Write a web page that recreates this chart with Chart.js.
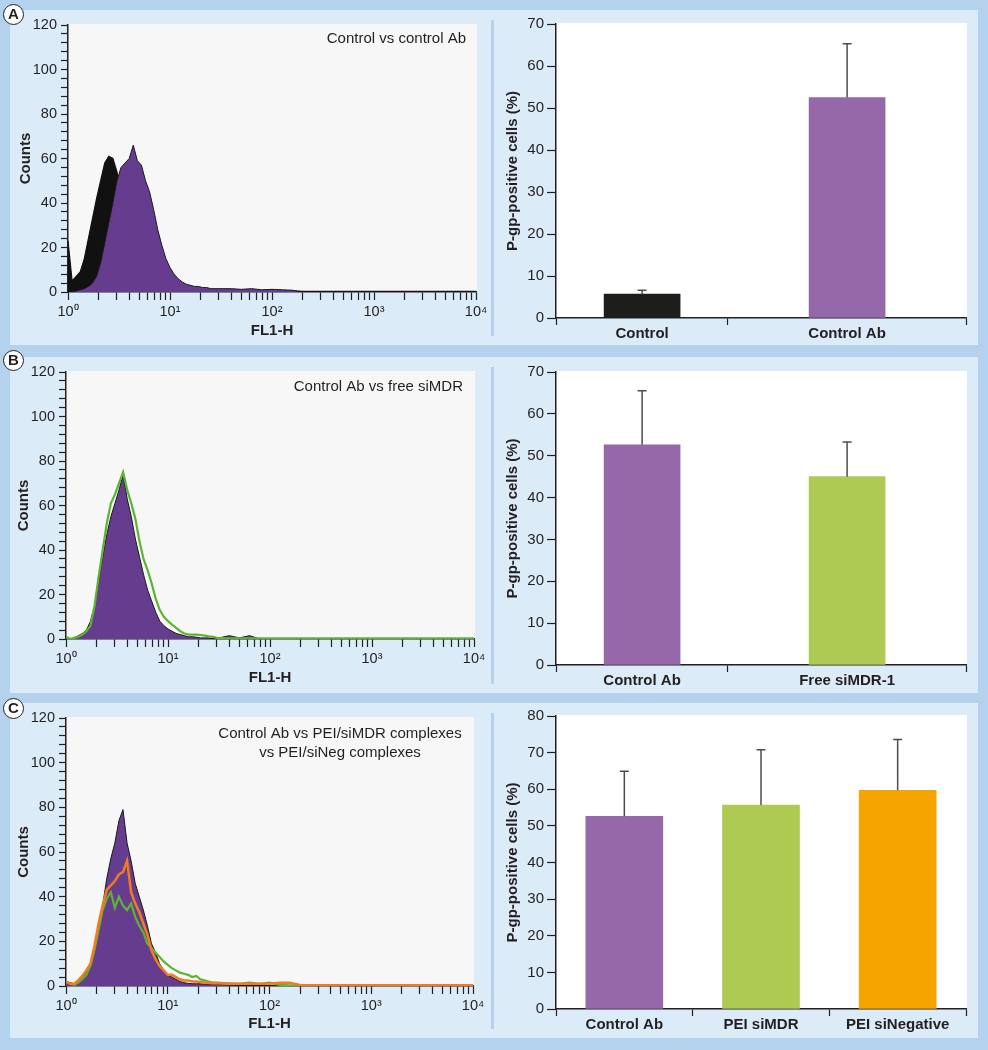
<!DOCTYPE html>
<html>
<head>
<meta charset="utf-8">
<script src="https://cdn.jsdelivr.net/npm/chart.js@4.4.1/dist/chart.umd.min.js"></script>
<style>
body { margin: 0; background: #b4d2ee; }
#page { position: relative; width: 988px; height: 1050px; overflow: hidden; }
.panel { position: absolute; left: 10px; width: 968px; background: #dcebf8; }
.divider { position: absolute; left: 491px; width: 3px; background: #b4d2ee; }
.tag { position: absolute; left: 3px; width: 21px; height: 21px; box-sizing: border-box; border: 1.5px solid #231f20; border-radius: 50%;
  background: #fff; color: #231f20; font: bold 15px "Liberation Sans", Arial, sans-serif; text-align: center; line-height: 18px; z-index: 5; }
canvas { position: absolute; }
</style>
</head>
<body>
<div id="page">
  <div class="panel" style="top:10px;height:335px"></div>
  <div class="panel" style="top:357px;height:336px"></div>
  <div class="panel" style="top:703px;height:335px"></div>
  <div class="divider" style="top:20px;height:316px"></div>
  <div class="divider" style="top:367px;height:317px"></div>
  <div class="divider" style="top:713px;height:316px"></div>

  <canvas id="histA" width="490" height="335" style="left:10px;top:10px"></canvas>
  <canvas id="barA" width="481" height="335" style="left:497px;top:10px"></canvas>
  <canvas id="histB" width="490" height="336" style="left:10px;top:357px"></canvas>
  <canvas id="barB" width="481" height="336" style="left:497px;top:357px"></canvas>
  <canvas id="histC" width="490" height="335" style="left:10px;top:703px"></canvas>
  <canvas id="barC" width="481" height="335" style="left:497px;top:703px"></canvas>

  <div class="tag" style="top:4px">A</div>
  <div class="tag" style="top:350px">B</div>
  <div class="tag" style="top:698px">C</div>
</div>
<script>
// FL1-H channel, as log10 exponent
var fl1Exp = [0.00, 0.04, 0.08, 0.12, 0.16, 0.20, 0.24, 0.28, 0.32, 0.36, 0.40, 0.44, 0.48, 0.52, 0.56, 0.60, 0.64, 0.68, 0.72, 0.76,
  0.80, 0.84, 0.88, 0.92, 0.96, 1.00, 1.04, 1.08, 1.12, 1.16, 1.20, 1.24, 1.28, 1.32, 1.36, 1.40, 1.44, 1.48,
  1.60, 1.70, 1.80, 1.90, 2.00, 2.10, 2.20, 2.30, 2.50, 2.80, 3.00, 3.20, 3.50, 3.80, 4.00];
var histTickExp = [0, 1, 2, 3, 4];
var histTickLabels = ["10⁰", "10¹", "10²", "10³", "10⁴"];

// panel A counts
var countsAControl = [23, 5, 7, 9, 15, 24, 33, 42, 50, 58, 61, 60, 54, 45, 36, 28, 21, 15, 11, 8,
  6, 4.5, 3.5, 3, 2.5, 2, 1.5, 1.5, 1, 1, 1, 1, 1, 0.8, 0.8, 0.8, 0.6, 0.6,
  0.5, 0.5, 0.5, 0.5, 0.5, 0.5, 0.5, 0.3, 0.3, 0.3, 0.3, 0.3, 0.3, 0.3, 0.3];
var countsAControlAb = [0, 0, 0.5, 1, 1.5, 2.5, 4, 7, 13, 22, 31, 40, 50, 56, 58, 60, 66, 59, 57, 50,
  45, 37, 28, 21, 15, 11, 8, 6, 4.5, 3.5, 3, 2.5, 2.5, 2, 2, 1.5, 1.5, 1.5,
  1.5, 1.2, 1.5, 1, 1.2, 1, 0.8, 0, 0, 0, 0, 0, 0, 0, 0];

// panel B counts
var countsBControlAb = [1, 0, 0.5, 1.5, 2.5, 4, 8, 15, 26, 37, 47, 55, 61, 67, 74, 63, 55, 45, 37, 29,
  22, 17, 12, 8, 6, 4.5, 3.5, 2.5, 2, 1.5, 1, 1, 0.8, 0.5, 0.5, 0.5, 0.3, 0.3,
  1.5, 0.5, 1.5, 0, 0, 0, 0, 0, 0, 0, 0, 0, 0, 0, 0];
var countsBFreeSiMDR = [1, 0, 0.5, 1, 2, 3.5, 6, 15, 28, 40, 52, 61, 65, 70, 75, 67, 61, 54, 44, 36,
  31, 25, 18, 13, 10, 8, 6.5, 5, 3.5, 2.5, 2, 2, 2, 1.8, 1.5, 1.2, 1, 0.5,
  0.3, 0.3, 0.3, 0.3, 0.3, 0.3, 0.3, 0.3, 0.3, 0.3, 0.3, 0.3, 0.3, 0.3, 0.3];

// panel C counts
var countsCControlAb = [2, 1.5, 1, 2.5, 4.5, 7, 9, 15, 24, 36, 48, 57, 64, 74, 79, 64, 56, 46, 40, 34,
  27, 19, 15, 10, 7, 5, 4, 3, 2, 1.5, 1.2, 1, 1, 1, 0.8, 0.8, 0.8, 0.8,
  0.5, 0.3, 0, 0, 0, 0, 0, 0, 0, 0, 0, 0, 0, 0, 0];
var countsCPeiSiMDR = [2, 1, 0.5, 1.5, 3, 5, 9, 16, 25, 34, 39, 42, 35, 40, 36, 34, 37, 31, 27, 24,
  19, 17, 15, 13, 11, 9.5, 8, 7, 6, 5.5, 5, 4, 4.5, 3, 2.5, 2, 1.5, 1.5,
  1.2, 1, 1.5, 1, 1.5, 0.5, 0.3, 0.3, 0.3, 0.3, 0.3, 0.3, 0.3, 0.3, 0.3];
var countsCPeiSiNeg = [2, 1, 1, 2.5, 4.5, 7, 10, 18, 28, 36, 43, 45, 47, 50, 51, 56, 42, 37, 33, 28,
  23, 16, 12, 9, 7, 5, 5, 4, 3, 2.5, 2.5, 2, 2, 1.8, 1.5, 1.5, 1.2, 1.2,
  1, 1, 1, 1, 1, 1.5, 1.5, 0.5, 0.3, 0.3, 0.3, 0.3, 0.3, 0.3, 0.3];

// P-gp-positive cells (%), mean and upper error
var barCatsA = ["Control", "Control Ab"];
var barValsA = [5.7, 52.5];
var barErrA = [0.9, 12.8];
var barCatsB = ["Control Ab", "Free siMDR-1"];
var barValsB = [52.6, 45.0];
var barErrB = [12.9, 8.3];
var barCatsC = ["Control Ab", "PEI siMDR", "PEI siNegative"];
var barValsC = [52.6, 55.7, 59.7];
var barErrC = [12.3, 15.1, 13.9];

var ink = "#231f20";
var histPurple = "#663d8e";
var histGreen = "#5cb531";
var histOrange = "#f47a20";
var barPurple = "#9468a9";
var barGreen = "#afca52";
var barOrange = "#f6a400";
var barBlack = "#1d1d1b";

Chart.defaults.font.family = '"Liberation Sans", Arial, Helvetica, sans-serif';
Chart.defaults.color = ink;
Chart.defaults.animation = false;
Chart.defaults.plugins.legend.display = false;
Chart.defaults.plugins.tooltip.enabled = false;

// plot background + the note in the corner of the histograms
const panelDeco = {
  id: "panelDeco",
  beforeDraw(chart, args, opts) {
    const a = chart.chartArea, ctx = chart.ctx;
    ctx.save();
    ctx.fillStyle = opts.color || "#fff";
    ctx.fillRect(a.left, a.top - 1, a.right - a.left + 1, a.bottom - a.top + 1);
    ctx.restore();
  },
  afterDraw(chart, args, opts) {
    if (!opts.note) return;
    const a = chart.chartArea, ctx = chart.ctx, n = opts.note;
    ctx.save();
    ctx.font = '15px "Liberation Sans", Arial, sans-serif';
    ctx.fillStyle = ink;
    ctx.textAlign = n.align;
    ctx.textBaseline = "middle";
    n.lines.forEach((t, i) => ctx.fillText(t, a.right - n.dx, a.top + n.dy[i]));
    ctx.restore();
  }
};

// upper error bars only
const errorBars = {
  id: "errorBars",
  afterDatasetsDraw(chart, args, opts) {
    if (!opts.err) return;
    const meta = chart.getDatasetMeta(0), y = chart.scales.y, ctx = chart.ctx;
    ctx.save();
    ctx.strokeStyle = "#4d4d4f";
    ctx.lineWidth = 1.5;
    meta.data.forEach((bar, i) => {
      const top = y.getPixelForValue(opts.vals[i] + opts.err[i]);
      ctx.beginPath();
      ctx.moveTo(bar.x, bar.y);
      ctx.lineTo(bar.x, top);
      ctx.moveTo(bar.x - 4.5, top);
      ctx.lineTo(bar.x + 4.5, top);
      ctx.stroke();
    });
    ctx.restore();
  }
};
Chart.register(panelDeco, errorBars);

function pts(ys) {
  return fl1Exp.map((x, i) => ({ x: x, y: ys[i] }));
}

function histChart(id, sets, note, box) {
  return new Chart(id, {
    type: "line",
    data: { datasets: sets },
    options: {
      responsive: false,
      layout: { padding: { left: 0, top: box.top, right: box.right, bottom: 0 } },
      elements: { point: { radius: 0 }, line: { tension: 0 } },
      scales: {
        x: {
          type: "linear", min: 0, max: 4,
          afterBuildTicks: function (s) {
            var t = [];
            for (var d = 0; d < 4; d++) for (var k = 1; k < 10; k++) t.push({ value: d + Math.log10(k) });
            t.push({ value: 4 });
            s.ticks = t;
          },
          afterFit: function (s) { s.height = box.xh; s.paddingLeft = 0; s.paddingRight = 0; },
          grid: { display: true, drawOnChartArea: false, tickLength: 8, tickColor: ink, tickWidth: 1.2 },
          border: { display: true, color: ink, width: 1.5 },
          ticks: {
            autoSkip: false, maxRotation: 0, padding: 3, font: { size: 14.5 },
            callback: function (v) { var i = histTickExp.indexOf(v); return i >= 0 ? histTickLabels[i] : ""; }
          },
          title: { display: true, text: "FL1-H", font: { size: 15, weight: "bold" }, padding: { top: 0, bottom: box.xt } }
        },
        y: {
          min: 0, max: 120,
          afterFit: function (s) { s.width = box.yw; s.paddingTop = 0; s.paddingBottom = 0; },
          grid: { display: true, drawOnChartArea: false, tickLength: 7, tickColor: ink, tickWidth: 1.2 },
          border: { display: true, color: ink, width: 1.5 },
          ticks: {
            stepSize: 4, autoSkip: false, maxTicksLimit: 100, padding: 4, font: { size: 14.5 },
            callback: function (v) { return v % 20 === 0 ? String(v) : ""; }
          },
          title: { display: true, text: "Counts", font: { size: 15, weight: "bold" }, padding: { top: box.yt, bottom: 0 } }
        }
      },
      plugins: { panelDeco: { color: "#f7f7f7", note: note } }
    }
  });
}

// bars sit at x = 0, 1, 2 on a linear axis; box.edges are where the axis tick marks go
function barChart(id, cats, vals, errs, colors, ymax, box) {
  var edges = box.edges;
  return new Chart(id, {
    type: "bar",
    data: {
      datasets: [{
        data: vals.map((v, i) => ({ x: i, y: v })),
        backgroundColor: colors, borderWidth: 0, barThickness: box.bw
      }]
    },
    options: {
      responsive: false,
      layout: { padding: { left: 0, top: box.top, right: 12, bottom: 0 } },
      scales: {
        x: {
          type: "linear", offset: false, min: edges[0], max: edges[edges.length - 1],
          afterBuildTicks: function (s) {
            var t = edges.map(v => ({ value: v }));
            cats.forEach((c, i) => t.push({ value: i }));
            t.sort((a, b) => a.value - b.value);
            s.ticks = t;
          },
          afterFit: function (s) { s.height = box.xh; s.paddingLeft = 0; s.paddingRight = 0; },
          grid: {
            display: true, drawOnChartArea: false, offset: false, tickLength: 7, tickWidth: 1.2,
            tickColor: function (c) { return c.tick && edges.indexOf(c.tick.value) >= 0 ? ink : "rgba(0,0,0,0)"; }
          },
          border: { display: true, color: ink, width: 1.5 },
          ticks: {
            autoSkip: false, maxRotation: 0, padding: 0, font: { size: 15, weight: "bold" },
            callback: function (v) { return edges.indexOf(v) >= 0 ? "" : cats[v]; }
          }
        },
        y: {
          min: 0, max: ymax,
          afterFit: function (s) { s.width = 59; s.paddingTop = 0; s.paddingBottom = 0; },
          grid: { display: true, drawOnChartArea: false, tickLength: 9, tickColor: ink, tickWidth: 1.2 },
          border: { display: true, color: ink, width: 1.5 },
          ticks: { stepSize: 10, padding: 3, font: { size: 15 } },
          title: { display: true, text: "P-gp-positive cells (%)", font: { size: 15, weight: "bold" }, padding: { top: 7, bottom: 0 } }
        }
      },
      plugins: { panelDeco: { color: "#ffffff" }, errorBars: { vals: vals, err: errs } }
    }
  });
}

histChart("histA", [
  { data: pts(countsAControlAb), borderColor: "#1a1a1a", borderWidth: 1, backgroundColor: histPurple, fill: "origin", order: 1 },
  { data: pts(countsAControl), borderColor: "#111111", borderWidth: 1.2, backgroundColor: "#111111", fill: "origin", order: 2 }
], { lines: ["Control vs control Ab"], align: "right", dx: 10, dy: [14] },
  { top: 15, right: 24, xh: 53, yw: 58, xt: 5, yt: 7 });

histChart("histB", [
  { data: pts(countsBControlAb), borderColor: "#1a1a1a", borderWidth: 1, backgroundColor: histPurple, fill: "origin", order: 2 },
  { data: pts(countsBFreeSiMDR), borderColor: histGreen, borderWidth: 2.2, fill: false, order: 1 }
], { lines: ["Control Ab vs free siMDR"], align: "right", dx: 11, dy: [15] },
  { top: 15, right: 26, xh: 54, yw: 56, xt: 6, yt: 5 });

histChart("histC", [
  { data: pts(countsCControlAb), borderColor: "#1a1a1a", borderWidth: 1, backgroundColor: histPurple, fill: "origin", order: 3 },
  { data: pts(countsCPeiSiMDR), borderColor: histGreen, borderWidth: 2.2, fill: false, order: 2 },
  { data: pts(countsCPeiSiNeg), borderColor: histOrange, borderWidth: 2.5, fill: false, order: 1 }
], { lines: ["Control Ab vs PEI/siMDR complexes", "vs PEI/siNeg complexes"], align: "center", dx: 133, dy: [16, 35] },
  { top: 15, right: 27, xh: 52, yw: 56, xt: 5, yt: 5 });

barChart("barA", barCatsA, barValsA, barErrA, [barBlack, barPurple], 70, { top: 14, xh: 27, bw: 76, edges: [-0.42, 0.415, 1.58] });
barChart("barB", barCatsB, barValsB, barErrB, [barPurple, barGreen], 70, { top: 15, xh: 28, bw: 76, edges: [-0.42, 0.415, 1.58] });
barChart("barC", barCatsC, barValsC, barErrC, [barPurple, barGreen, barOrange], 80, { top: 13, xh: 29, bw: 77, edges: [-0.5, 0.5, 1.5, 2.5] });
</script>
</body>
</html>
